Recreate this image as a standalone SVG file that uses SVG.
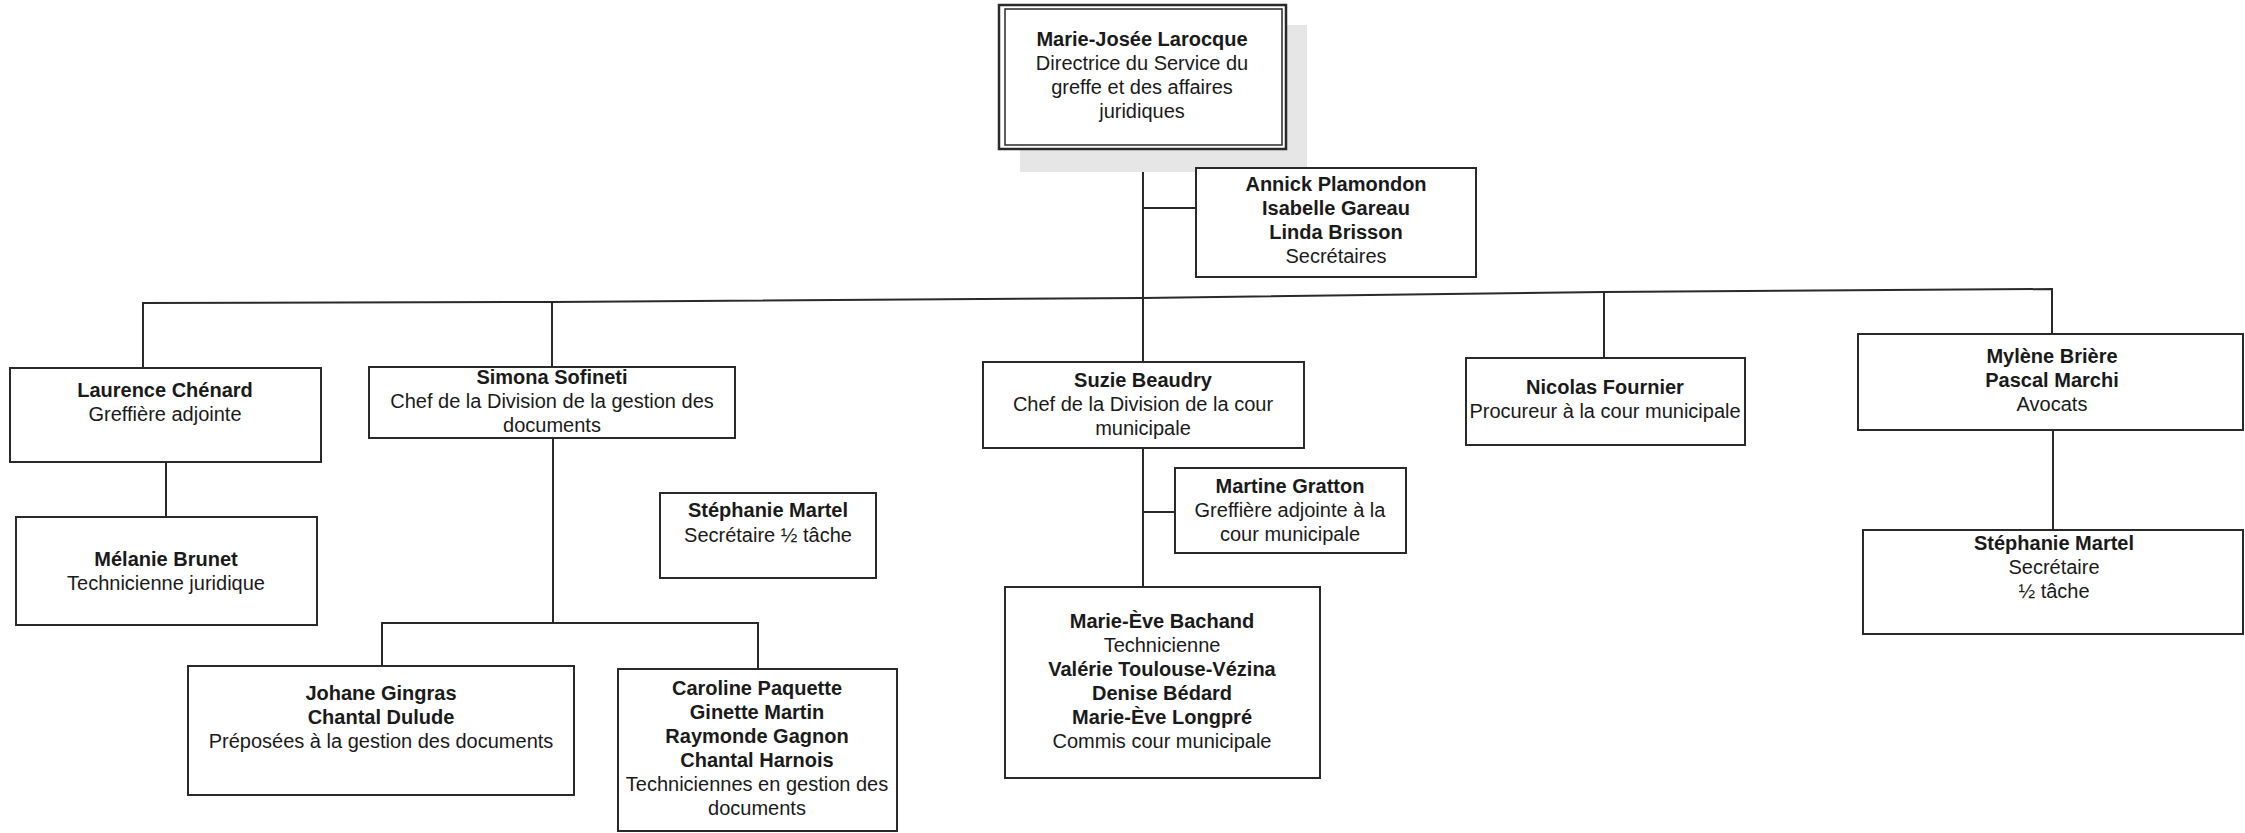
<svg xmlns="http://www.w3.org/2000/svg" width="2245" height="833" viewBox="0 0 2245 833">
<style>
text{font-family:"Liberation Sans",Arial,sans-serif;font-size:20px;fill:#1a1a1a;text-anchor:middle}
.b{font-weight:bold}
.box{fill:#fff;stroke:#2a2a2a;stroke-width:2}
.ln{fill:none;stroke:#2a2a2a;stroke-width:2}
</style>
<rect width="2245" height="833" fill="#fff"/>
<g id="connectors">
<polyline class="ln" points="143,368 143,303 552,302 1143,298 1604,292 2052,289 2052,334"/>
<line class="ln" x1="552" y1="302" x2="552" y2="367"/>
<line class="ln" x1="1143" y1="149" x2="1143" y2="362"/>
<line class="ln" x1="1143" y1="208" x2="1196" y2="208"/>
<line class="ln" x1="1604" y1="292" x2="1604" y2="358"/>
<line class="ln" x1="166" y1="462" x2="166" y2="517"/>
<polyline class="ln" points="553,438 553,623"/>
<polyline class="ln" points="382,666 382,623 758,623 758,669"/>
<line class="ln" x1="1143" y1="448" x2="1143" y2="587"/>
<line class="ln" x1="1143" y1="512" x2="1175" y2="512"/>
<line class="ln" x1="2053" y1="430" x2="2053" y2="530"/>
</g>
<g id="n-director">
<rect x="1020" y="25" width="287" height="147" fill="#e6e6e6"/>
<rect x="999" y="5" width="287" height="144" fill="#fff" stroke="#2a2a2a" stroke-width="2.5"/>
<rect x="1005" y="9" width="277" height="136" fill="none" stroke="#2a2a2a" stroke-width="1.5"/>
<text x="1142" y="46" class="b">Marie-Josée Larocque</text>
<text x="1142" y="70">Directrice du Service du</text>
<text x="1142" y="94">greffe et des affaires</text>
<text x="1142" y="118">juridiques</text>
</g>
<g id="n-secretaires">
<rect class="box" x="1196" y="168" width="280" height="109"/>
<text x="1336" y="191" class="b">Annick Plamondon</text>
<text x="1336" y="215" class="b">Isabelle Gareau</text>
<text x="1336" y="239" class="b">Linda Brisson</text>
<text x="1336" y="263">Secrétaires</text>
</g>
<g id="n-laurence">
<rect class="box" x="10" y="368" width="311" height="94"/>
<text x="165" y="397" class="b">Laurence Chénard</text>
<text x="165" y="421">Greffière adjointe</text>
</g>
<g id="n-melanie">
<rect class="box" x="16" y="517" width="301" height="108"/>
<text x="166" y="566" class="b">Mélanie Brunet</text>
<text x="166" y="590">Technicienne juridique</text>
</g>
<g id="n-simona">
<rect class="box" x="369" y="367" width="366" height="71"/>
<text x="552" y="384" class="b">Simona Sofineti</text>
<text x="552" y="408">Chef de la Division de la gestion des</text>
<text x="552" y="432">documents</text>
</g>
<g id="n-stephanie-1">
<rect class="box" x="660" y="493" width="216" height="85"/>
<text x="768" y="517" class="b">Stéphanie Martel</text>
<text x="768" y="542">Secrétaire ½ tâche</text>
</g>
<g id="n-johane">
<rect class="box" x="188" y="666" width="386" height="129"/>
<text x="381" y="700" class="b">Johane Gingras</text>
<text x="381" y="724" class="b">Chantal Dulude</text>
<text x="381" y="748">Préposées à la gestion des documents</text>
</g>
<g id="n-caroline">
<rect class="box" x="618" y="669" width="279" height="162"/>
<text x="757" y="695" class="b">Caroline Paquette</text>
<text x="757" y="719" class="b">Ginette Martin</text>
<text x="757" y="743" class="b">Raymonde Gagnon</text>
<text x="757" y="767" class="b">Chantal Harnois</text>
<text x="757" y="791">Techniciennes en gestion des</text>
<text x="757" y="815">documents</text>
</g>
<g id="n-suzie">
<rect class="box" x="983" y="362" width="321" height="86"/>
<text x="1143" y="387" class="b">Suzie Beaudry</text>
<text x="1143" y="411">Chef de la Division de la cour</text>
<text x="1143" y="435">municipale</text>
</g>
<g id="n-martine">
<rect class="box" x="1175" y="468" width="231" height="85"/>
<text x="1290" y="493" class="b">Martine Gratton</text>
<text x="1290" y="517">Greffière adjointe à la</text>
<text x="1290" y="541">cour municipale</text>
</g>
<g id="n-marieeve">
<rect class="box" x="1005" y="587" width="315" height="191"/>
<text x="1162" y="628" class="b">Marie-Ève Bachand</text>
<text x="1162" y="652">Technicienne</text>
<text x="1162" y="676" class="b">Valérie Toulouse-Vézina</text>
<text x="1162" y="700" class="b">Denise Bédard</text>
<text x="1162" y="724" class="b">Marie-Ève Longpré</text>
<text x="1162" y="748">Commis cour municipale</text>
</g>
<g id="n-nicolas">
<rect class="box" x="1466" y="358" width="279" height="87"/>
<text x="1605" y="394" class="b">Nicolas Fournier</text>
<text x="1605" y="418">Procureur à la cour municipale</text>
</g>
<g id="n-mylene">
<rect class="box" x="1858" y="334" width="385" height="96"/>
<text x="2052" y="363" class="b">Mylène Brière</text>
<text x="2052" y="387" class="b">Pascal Marchi</text>
<text x="2052" y="411">Avocats</text>
</g>
<g id="n-stephanie-2">
<rect class="box" x="1863" y="530" width="380" height="104"/>
<text x="2054" y="550" class="b">Stéphanie Martel</text>
<text x="2054" y="574">Secrétaire</text>
<text x="2054" y="598">½ tâche</text>
</g>
</svg>
